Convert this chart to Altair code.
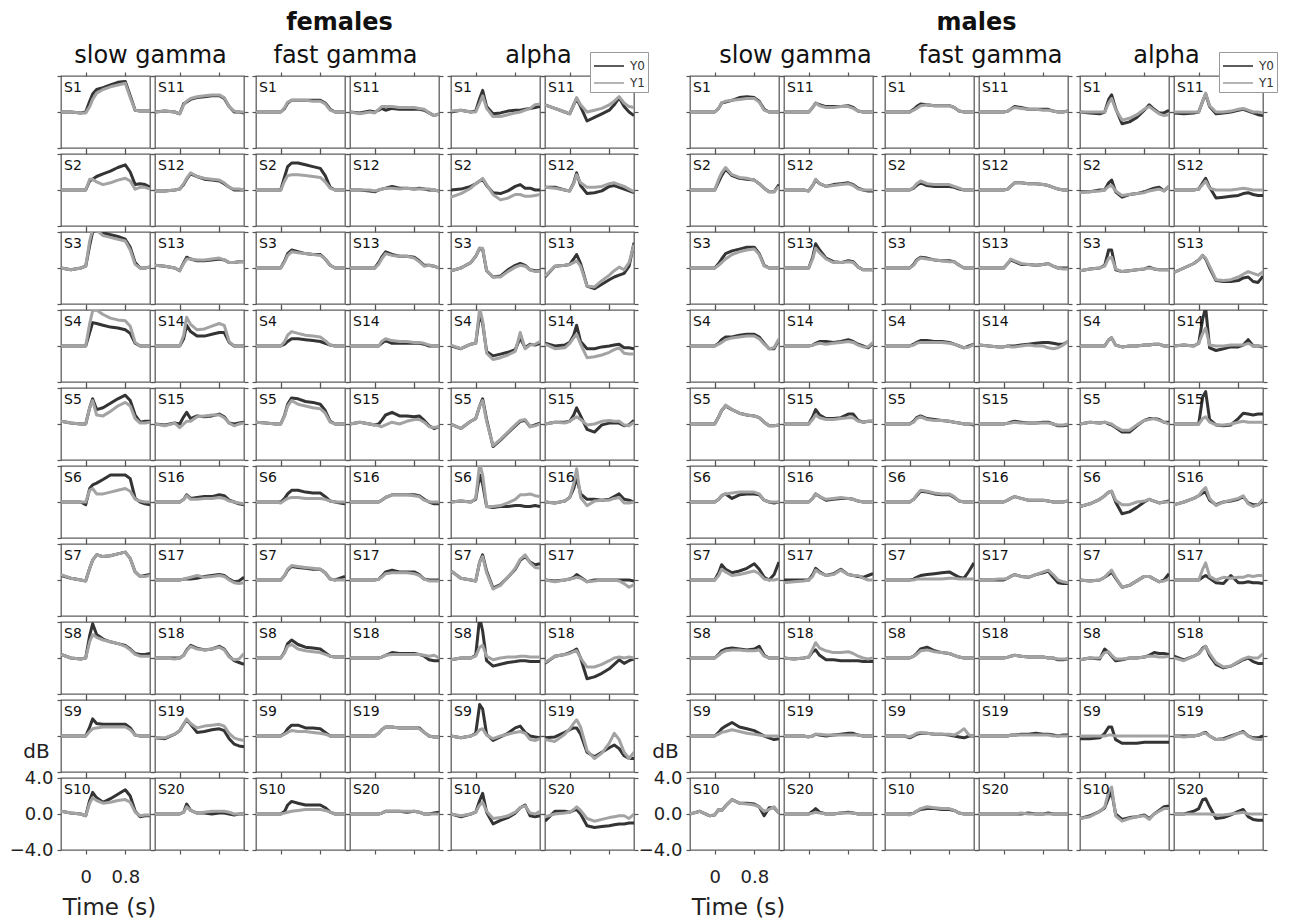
import altair as alt
import pandas as pd

# ---------------- data ----------------
T = [-0.5, -0.3, -0.1, 0.0, 0.08, 0.14, 0.22, 0.35, 0.5, 0.65, 0.8, 0.9, 1.0, 1.1, 1.2, 1.3]
SUBJECTS = ["S%d" % i for i in range(1, 21)]
GROUPS = ["females", "males"]
BANDS = ["slow gamma", "fast gamma", "alpha"]
SERIES = ["Y0", "Y1"]
X_TICKS = [0, 0.8]
Y_TICKS = [-4, 0, 4]

F_SG0 = [
 [0,0,-0.1,0,1.2,2.0,2.5,2.7,3.0,3.3,3.4,1.8,0.2,0.1,0.1,0.1],
 [0,0,0,0,1.0,1.2,1.5,1.8,2.1,2.5,2.8,2.0,0.6,0.7,0.6,0.3],
 [0,-0.2,0,0.2,2.5,4.0,4.3,3.9,3.7,3.5,3.2,2.3,0.6,0,0,0.1],
 [0,0,0,0,1.5,2.6,2.5,2.3,2.1,2.0,1.8,1.4,0.3,0,0,0],
 [0.3,0.1,0,0,1.8,2.8,1.6,1.8,2.3,2.8,3.2,2.6,1.0,0.2,0.3,0.3],
 [0,0,0,-0.3,1.5,1.9,2.1,2.5,3.0,3.0,3.0,2.6,0.4,0,-0.2,-0.3],
 [0.5,0.2,0,-0.1,1.3,2.2,2.8,2.6,2.7,2.9,3.1,2.4,0.9,0.4,0.5,0.6],
 [0.4,0,-0.1,0,2.5,3.8,2.6,2.1,1.8,1.6,1.4,1.0,0.5,0.4,0.4,0.5],
 [0,0,0,0,1.0,1.9,1.4,1.3,1.3,1.3,1.3,0.9,0.1,0,0,0],
 [0.3,0.1,0,-0.2,1.5,2.4,1.8,1.3,1.7,2.2,2.7,2.0,0.3,-0.3,-0.2,-0.2],
 [0,0.1,0,-0.2,0.9,1.1,1.4,1.6,1.7,1.8,1.8,1.5,0.6,0,0,-0.1],
 [-0.1,-0.1,0,0.1,0.6,1.2,1.8,1.5,1.2,1.1,1.0,0.7,0.3,0,0,0],
 [0.3,0.2,0,-0.3,0.6,1.2,1.0,0.8,0.8,0.9,1.0,0.9,0.6,0.6,0.7,0.7],
 [0,0,0,0,0.8,2.3,1.6,1.1,1.1,1.3,1.5,1.5,0.4,0,0,0],
 [0,-0.1,0.1,0,0.8,1.3,0.6,0.9,0.8,0.9,1.1,0.8,0.1,0,0.1,0.2],
 [0,0,0,0,0.3,0.8,0.4,0.5,0.6,0.6,0.8,0.7,0.2,0,-0.2,-0.3],
 [0,0,0,0,0.1,0.1,0.1,0.2,0.4,0.5,0.6,0.5,0.1,-0.2,-0.1,0.3],
 [0,0,0,0,0.3,0.9,1.4,1.1,0.9,1.0,1.3,1.0,0.2,-0.3,-0.5,-0.7],
 [-0.2,-0.3,0.2,0.6,1.3,1.8,1.3,0.4,0.5,0.7,0.8,0.6,-0.3,-0.9,-1.1,-1.2],
 [0,0,0,0,0.2,1.1,0.4,0.1,0.1,0,0.1,0.1,0,-0.1,0,0],
]
F_SG1 = [
 [0,0,-0.1,-0.1,0.6,1.4,2.1,2.5,2.8,3.0,3.2,1.6,0.2,0.1,0.1,0.1],
 [0,0,0,0,1.2,1.2,0.9,0.6,0.8,1.1,1.3,1.0,0.1,0.3,0.3,0.1],
 [0,-0.2,0,0.2,3.0,4.3,4.2,3.6,3.4,3.2,3.0,2.0,0.4,0,0,0.1],
 [0,0,0,0,2.5,3.9,4.0,3.5,3.1,2.9,2.8,2.2,0.4,0,0,0],
 [0.3,0.1,0,0,1.8,2.6,1.0,0.9,1.4,2.0,2.4,2.0,0.6,0.1,0.1,0.2],
 [0,0,0,0,1.3,1.5,0.9,0.9,1.1,1.3,1.5,1.2,0.3,0.1,0,0],
 [0.6,0.2,0,-0.1,1.3,2.2,2.8,2.6,2.7,2.9,3.1,2.4,0.9,0.4,0.4,0.5],
 [0.4,0,-0.1,0,1.8,2.6,2.3,2.0,1.8,1.6,1.3,0.9,0.4,0.2,0.2,0.2],
 [0,0,0,0,0.5,0.8,0.9,1.0,1.0,1.0,1.0,0.7,0.1,0,0,0],
 [0.3,0.1,0,-0.2,1.2,1.8,1.5,1.2,1.3,1.5,1.6,1.3,0.2,-0.2,-0.1,-0.1],
 [0,0.1,0,-0.2,0.8,1.2,1.5,1.7,1.8,1.9,1.9,1.6,0.6,0.1,0,0],
 [-0.1,-0.1,0,0.1,0.7,1.3,1.9,1.5,1.3,1.2,1.1,0.8,0.3,0.1,0.1,0],
 [0.3,0.2,0,-0.3,0.5,1.0,1.0,0.9,0.9,1.0,1.1,0.9,0.6,0.6,0.7,0.7],
 [0,0,0,0,1.2,3.2,2.4,1.8,1.9,2.2,2.5,2.3,0.5,0,0,0],
 [0,-0.2,0.1,-0.4,0,0.3,0.3,0.8,0.9,1.0,1.0,0.7,0.1,-0.2,0,0.1],
 [0,0,0,0,0.3,0.7,0.3,0.3,0.4,0.4,0.5,0.4,0.1,0,-0.1,-0.2],
 [0,0,0,0,0.1,0.2,0.3,0.5,0.3,0.4,0.5,0.4,0,-0.3,-0.4,-0.3],
 [0,0,-0.1,0,0.3,0.8,1.3,1.0,0.9,1.0,1.2,0.9,0.1,-0.2,-0.1,0.5],
 [-0.2,-0.2,0.2,0.6,1.3,1.9,1.4,0.9,1.1,1.2,1.3,1.1,0.3,-0.2,-0.4,-0.5],
 [0,0,0,0,0.2,0.8,0.4,0.1,0.2,0.3,0.3,0.3,0.2,0,0,0],
]
F_FG0 = [
 [0,0,0,0,0.4,1.0,1.3,1.3,1.3,1.3,1.3,1.0,0.3,0,0,0],
 [0,0,0,0,1.5,2.6,3.0,3.0,2.8,2.6,2.4,1.6,0.3,0,0,0],
 [0,0,0,0,0.8,1.6,2.0,1.8,1.6,1.5,1.5,1.0,0.3,0,0,0],
 [0,0,0,0,0.2,0.5,0.8,0.8,0.7,0.6,0.5,0.3,0.1,0,0,0],
 [0.2,0.1,0,0,1.0,2.2,2.9,2.8,2.5,2.4,2.2,1.5,0.3,0,0,0],
 [0,0,0,0,0.4,0.9,1.3,1.3,1.1,1.0,1.0,0.6,0.1,0,-0.1,-0.2],
 [0,0,0,0,0.5,1.1,1.5,1.4,1.3,1.2,1.2,0.8,0.1,0,0.2,0.4],
 [0,0,0,0,0.7,1.6,2.0,1.5,1.2,1.1,1.0,0.6,0.2,0.1,0.1,0.1],
 [0,0,0,0,0.3,0.8,1.2,1.2,0.9,0.9,0.8,0.4,0,0,0,0],
 [0,0,0,0,0.3,1.0,1.4,1.2,1.0,1.0,1.0,0.7,0.2,0,0,0],
 [0,-0.1,0.1,0,0.2,0.4,0.2,0.4,0.3,0.3,0.3,0.3,0.2,-0.1,-0.4,-0.2],
 [0,0,-0.1,-0.2,0,0.1,0.2,0.4,0.2,0.2,0.1,0.2,0.1,0,0,-0.1],
 [0,0,0,0,0.6,1.2,1.8,1.5,1.3,1.3,1.2,0.8,0.3,0.3,0.2,0],
 [0,0,0,0,0,0.3,0.6,0.3,0.3,0.3,0.3,0.3,0.2,0,0,0],
 [0,0.2,0,-0.1,0,0.4,1.0,1.3,0.9,0.9,0.8,0.9,0.4,-0.2,-0.5,-0.3],
 [0,0,0,0,0,0.2,0.5,0.8,0.8,0.8,0.8,0.7,0.3,0,-0.2,-0.2],
 [0,0,0,0,0.1,0.4,0.9,1.1,0.9,0.9,0.9,0.6,0.1,0,0,0],
 [0,0,0,0,0,0.1,0.3,0.6,0.5,0.5,0.5,0.4,0.2,-0.2,-0.3,-0.3],
 [0,0,0,0,0.3,0.7,1.0,1.0,0.9,0.9,0.9,0.9,0.4,0,-0.1,-0.1],
 [0,0,0,0,0,0.1,0.3,0.3,0.3,0.2,0.3,0.2,0,0,0.1,0.2],
]
F_FG1 = [
 [0,0,0,0,0.5,1.1,1.3,1.3,1.3,1.2,1.2,0.9,0.2,0,0,0],
 [0,0,0,0,1.0,1.6,1.7,1.7,1.6,1.5,1.4,0.9,0.2,0,0,0],
 [0,0,0,0,0.7,1.4,1.8,1.7,1.6,1.5,1.4,1.0,0.3,0,0,0],
 [0,0,0,0,0.5,1.2,1.6,1.4,1.2,1.1,1.0,0.6,0.1,0,0,0],
 [0.2,0.1,0,0,0.9,2.0,2.6,2.2,2.0,1.8,1.7,1.2,0.2,0,0,0],
 [0,0,0,-0.1,0.2,0.4,0.5,0.5,0.4,0.4,0.4,0.3,0.1,0,0,0],
 [0,0,0,0,0.5,1.2,1.6,1.5,1.4,1.3,1.2,0.8,0.1,0,0,0],
 [0,0,0,0,0.6,1.3,1.5,1.0,0.8,0.7,0.6,0.4,0.2,0.1,0.1,0.1],
 [0,0,0,0,0.2,0.4,0.6,0.5,0.5,0.4,0.3,0.2,0,0,0,0],
 [0,0,0,0,0.1,0.2,0.3,0.4,0.5,0.5,0.5,0.4,0.2,0,0,0],
 [0,-0.2,0,-0.1,0.3,0.6,0.6,0.6,0.5,0.5,0.5,0.4,0.3,-0.1,-0.4,-0.2],
 [0,0,0,-0.1,0,0.1,0.2,0.2,0.1,0.2,0.1,0.1,0.1,0.1,0,-0.1],
 [0,0,0,0,0.4,1.0,1.6,1.4,1.3,1.3,1.1,0.7,0.2,0.3,0.2,0],
 [0,0,0,0,0,0.5,0.8,0.6,0.5,0.5,0.4,0.4,0.3,0.1,0,0],
 [0,0.2,0,-0.1,-0.2,-0.3,-0.1,0.2,0,0.3,0.5,0.5,0.2,-0.3,-0.4,-0.3],
 [0,0,0,0,0,0.2,0.5,0.8,0.8,0.8,0.7,0.6,0.2,0,0,0],
 [0,0,0,0,0.1,0.3,0.7,0.8,0.8,0.8,0.7,0.5,0.1,-0.1,-0.1,-0.1],
 [0,0,0,0,0,0.1,0.3,0.4,0.4,0.4,0.4,0.4,0.3,0.2,0.3,0],
 [0,0,0,0,0.3,0.7,1.0,1.0,0.9,0.9,0.9,0.8,0.4,0,-0.1,-0.1],
 [0,0,0,0,0,0.1,0.3,0.3,0.3,0.3,0.3,0.2,0,0,0,0],
]
F_AL0 = [
 [0,0.2,0,0.1,1.5,2.4,0.6,-0.2,-0.1,0.1,0.2,0.2,0.3,0.4,0.5,0.6],
 [0,0.1,0.4,0.7,1.0,1.2,0.5,-0.3,-0.4,-0.1,0.4,0.6,0.2,0.2,0,0],
 [-0.3,0,0.6,1.3,2.2,2.1,-0.3,-1.0,-0.9,-0.2,0.3,0.5,0.3,-0.2,-0.3,-0.3],
 [0,-0.3,0.2,0.3,3.5,2.5,-0.6,-1.1,-0.9,-0.7,-0.4,0.9,-0.2,0.2,0.1,0.3],
 [0,-0.5,0.3,0.6,2.0,2.8,0.5,-2.5,-1.8,-1.0,-0.2,0.3,0.4,-0.3,-0.1,0.1],
 [0,0.1,0,0.3,3.0,2.0,-0.5,-0.6,-0.5,-0.5,-0.4,-0.4,-0.5,-0.5,-0.4,-0.5],
 [1.0,0.2,0,-0.1,2.0,2.8,1.0,-0.9,-0.5,0.3,1.2,2.2,2.6,2.0,1.7,1.8],
 [-0.2,0,0,0.3,4.5,3.0,-0.3,-0.9,-0.7,-0.5,-0.4,-0.3,-0.3,-0.4,-0.4,-0.4],
 [0,-0.2,0,0.3,3.5,3.0,0.2,-0.5,-0.1,0.3,0.9,1.1,0.4,0,-0.1,-0.2],
 [0,-0.3,0,0.2,1.5,2.3,0.2,-1.1,-0.7,-0.4,0.1,0.7,1.0,-0.2,-0.3,-0.2],
 [0.8,0.4,0,-0.2,0.8,1.5,0.6,-1.0,-0.6,-0.2,0.2,0.8,1.6,0.6,0,-0.4],
 [0.3,0.3,0,-0.1,0.8,1.9,0.5,-0.4,-0.3,-0.1,0.4,0.5,0.3,0.1,-0.1,-0.3],
 [-1.0,0.2,0.3,0.4,1.0,1.5,0.5,-2.0,-2.3,-1.8,-1.3,-1.0,-0.8,-0.6,0.2,2.8],
 [0.3,0,0.1,0.4,1.2,2.3,0.5,-0.3,-0.3,-0.1,0,0.1,0.2,-0.2,-0.2,-0.3],
 [0,0.2,0.2,0.3,1.0,1.8,0.9,-0.6,-0.9,-0.1,0.1,0.1,0.1,-0.2,-0.1,0.4],
 [0,-0.1,0.1,0.5,1.5,2.7,0.9,0.3,0.3,0.2,0.3,0.6,0.9,0.3,0.2,0],
 [0,-0.1,0,0.1,0.3,0.6,0.3,-0.2,0,0,0,0,0,0,0,-0.1],
 [-0.6,0.2,0.4,0.6,0.8,1.0,0,-2.3,-2.1,-1.7,-1.2,-0.7,-0.2,-0.6,-0.3,-0.1],
 [-0.2,-0.1,0.4,0.7,0.9,0.9,0.2,-1.8,-2.3,-1.8,-1.3,-1.0,-1.4,-2.2,-2.5,-2.5],
 [-0.8,0.3,0.3,0.2,0.4,0.5,0,-1.3,-1.5,-1.4,-1.3,-1.2,-1.1,-1.1,-1.0,-1.0],
]
F_AL1 = [
 [0.1,0.2,0,0,1.0,1.8,0.4,-0.5,-0.5,-0.3,-0.1,0,0.2,0.4,0.8,0.9],
 [-0.8,-0.4,0.2,0.7,1.0,1.3,0.6,-0.5,-1.1,-0.9,-0.5,-0.5,-0.7,-0.7,-0.6,-0.5],
 [-0.3,0,0.6,1.3,2.2,2.2,-0.3,-1.0,-1.0,-0.4,0.1,0.3,0.2,-0.2,-0.4,-0.4],
 [0.1,-0.3,0.2,0.3,4.2,2.8,-0.8,-1.5,-1.3,-1.0,-0.6,1.5,-0.3,0.1,0.2,0.5],
 [0,-0.5,0.3,0.6,2.0,2.6,0.3,-2.4,-1.7,-0.9,-0.1,0.4,0.5,-0.3,-0.2,0],
 [0,0.1,0,0.4,4.3,3.0,-0.5,-0.5,-0.4,-0.1,0.3,0.8,0.8,0.9,0.7,0.6],
 [1.0,0.2,0,-0.1,2.0,2.6,0.8,-1.0,-0.6,0.3,1.3,2.3,2.8,1.9,1.4,1.3],
 [-0.2,0,0,0.2,1.2,1.4,0.2,-0.2,0,0.1,0.1,0.2,0.2,0.1,0.1,0.1],
 [0,-0.2,0,0.2,0.7,0.8,0.1,-0.3,0,0.2,0.4,0.5,0.3,-0.4,-0.5,-0.3],
 [0,-0.2,0,0.2,1.0,1.3,0.3,-0.5,-0.4,-0.2,0.2,0.7,0.9,0.1,0,0.3],
 [0.8,0.4,0,-0.2,0.8,1.6,0.8,0,0.2,0.4,0.8,1.2,1.7,1.0,0.6,0.5],
 [0.3,0.2,0,-0.1,0.7,1.7,0.8,0.3,0.3,0.4,0.7,0.8,0.6,0.4,0.1,-0.2],
 [-0.9,0.2,0.3,0.4,0.6,0.8,0.2,-2.0,-2.1,-1.4,-0.8,-0.3,0.1,-0.2,0.6,2.6],
 [0.2,-0.3,-0.2,0.3,0.9,1.3,0.2,-1.3,-1.2,-1.0,-0.7,-0.4,-0.2,-0.8,-0.9,-0.9],
 [0,0.2,0.1,0.3,0.6,0.8,0.5,-0.1,0,0.3,0.4,0.3,0.3,-0.1,-0.2,0.2],
 [0,-0.1,0.1,0.5,2.0,3.7,0.5,-0.4,0.1,0.2,0.2,0.4,0.5,-0.1,-0.1,0],
 [0,-0.2,0,0.1,0.2,0.3,0.2,-0.2,-0.1,0,0,0,-0.1,-0.4,-0.8,-0.5],
 [-0.5,0.2,0.4,0.5,0.7,0.8,0,-1.0,-1.0,-0.7,-0.3,0,0.1,0,0.1,0],
 [-0.4,-0.6,0.2,0.8,1.4,1.8,1.0,-1.6,-2.5,-1.9,-0.8,0.3,-0.4,-1.8,-2.5,-1.8],
 [-0.3,0,0.1,0.2,0.5,0.8,0.4,-0.5,-0.8,-0.6,-0.4,-0.3,-0.2,-0.2,-0.5,0],
]
M_SG0 = [
 [0,0,0,0,0.4,1.0,1.1,1.3,1.6,1.7,1.6,1.2,0.3,0,0,0],
 [0,0,0,0,0.9,1.6,2.3,1.6,1.3,1.2,1.1,0.7,0.2,-0.2,-0.2,0.6],
 [0,0,0,0,0.5,1.0,1.6,1.9,2.1,2.3,2.3,1.6,0.3,0,0,0],
 [0,0,0,0,0.3,0.7,1.0,1.0,1.2,1.3,1.3,1.0,0.3,-0.3,-0.3,0.7],
 [0,0,0,0,0.8,1.5,2.0,1.6,1.2,1.0,0.9,0.7,0.2,-0.2,-0.2,-0.1],
 [0,0,0,0,0.3,0.7,0.9,0.4,0.8,0.9,0.9,0.8,0.2,0,-0.1,0],
 [0,0,0,0,0.8,1.7,1.2,0.8,1.0,1.3,1.8,1.2,0.3,0,0.6,2.0],
 [0,0,0,0,0.4,0.8,1.0,1.1,1.0,0.9,1.0,1.3,0.3,0,0,0],
 [0,0,0,0,0.4,0.8,1.1,1.5,1.0,0.8,0.6,0.3,0,-0.2,-0.4,-0.3],
 [0,0.3,-0.2,-0.1,0.5,0.4,0.9,1.6,1.2,1.2,1.1,0.8,-0.2,0.7,0.7,0.1],
 [0,0,0,0,0.5,1.0,0.8,0.6,0.6,0.6,0.7,0.5,0.1,0,0,0],
 [0,0,0,-0.1,0.5,1.1,0.7,0.4,0.6,0.7,0.8,0.6,0.2,0,-0.1,-0.1],
 [0,0,0,0,1.2,2.7,2.0,1.1,0.7,0.6,0.8,0.7,0.1,-0.2,-0.2,-0.2],
 [0,0,0,0,0.1,0.3,0.5,0.5,0.4,0.5,0.7,0.5,0.2,0,-0.2,0.3],
 [0,0,0,0,0.8,1.6,1.0,0.6,0.6,0.7,1.1,1.1,0.4,0.2,0.3,0.3],
 [0,0,0,0,0.4,0.9,0.6,0.2,0.3,0.4,0.4,0.3,0.1,0,0,0],
 [0,0,0,0,0.6,1.3,0.9,0.5,0.7,1.2,0.6,0.5,0.4,0.3,0.5,0.7],
 [0,-0.1,0,0.1,0.7,0.9,0.3,-0.2,-0.2,-0.3,-0.3,-0.3,-0.3,-0.4,-0.4,-0.4],
 [0,0,0,-0.1,0,0.2,0.1,0,0.1,0.2,0.3,0.3,0.1,0,0,0],
 [0,0,0,0,0.3,0.6,0.2,0,0,0.1,0.2,0.1,0,0,0,0],
]
M_SG1 = [
 [0,0,0,0,0.4,1.0,1.2,1.3,1.4,1.5,1.5,1.1,0.2,0,0,0],
 [0,0,0,0,1.2,1.9,2.5,1.7,1.4,1.3,1.1,0.7,0.2,-0.2,-0.2,0.4],
 [0,0,0,0,0.3,0.6,1.0,1.5,1.8,2.0,2.1,1.5,0.2,0,0,0],
 [0,0,0,0,0.2,0.4,0.7,0.9,1.0,1.1,1.1,0.8,0.2,-0.3,-0.2,0.8],
 [0,0,0,0,0.8,1.5,2.1,1.6,1.2,1.0,0.9,0.7,0.2,-0.2,-0.2,-0.1],
 [0,0,0,0,0.3,0.7,0.9,1.0,1.1,1.1,1.1,0.9,0.2,0,0,0],
 [0,0,0,0,0.5,1.2,0.9,0.5,0.6,0.8,1.0,0.7,0.1,0,0,0.1],
 [0,0,0,0,0.3,0.6,0.8,0.9,0.9,0.8,0.8,0.9,0.2,0,0,0],
 [0,0,0,0,0.2,0.4,0.5,0.7,0.5,0.3,0.2,0.1,0,0,0,0],
 [0,0.3,-0.2,-0.1,0.5,0.4,0.9,1.6,1.2,1.1,1.0,0.8,0.3,0.5,0.8,0.1],
 [0,0,0,0,0.5,1.0,0.7,0.5,0.5,0.6,0.6,0.4,0.1,0,0,0],
 [0,0,0,-0.1,0.5,1.2,0.7,0.4,0.5,0.6,0.7,0.5,0.1,0,0,0],
 [0,0,0,0,1.0,2.2,1.7,1.0,0.6,0.6,0.7,0.6,0.1,-0.2,-0.2,-0.2],
 [0,0,0,0,0.1,0.2,0.3,0.2,0.3,0.4,0.5,0.4,0.1,-0.1,-0.1,0.4],
 [0,0,0,0,0.5,1.0,0.7,0.5,0.5,0.6,0.7,0.7,0.3,0.2,0.3,0.3],
 [0,0,0,0,0.4,0.9,0.6,0.3,0.4,0.5,0.4,0.3,0.1,0,0,0],
 [-0.3,-0.2,-0.1,0,0.4,1.1,0.8,0.5,0.6,1.1,0.6,0.5,0.5,0.2,0,0],
 [0,-0.1,0,0.1,1.0,1.7,1.1,0.8,0.6,0.6,0.7,0.5,0.2,0,-0.1,0],
 [0,0,0,-0.1,0,0.2,0.2,0.1,0.1,0.1,0.1,0.1,0.1,0,0,0],
 [0,0,0,0,0.1,0.2,0.1,0,0,0.1,0.1,0.1,0,0,0,0],
]
M_FG0 = [
 [0,0,0,0,0.3,0.6,0.9,0.8,0.7,0.7,0.7,0.5,0.1,0,0,0],
 [0,0,0,0,0.2,0.5,0.8,0.5,0.4,0.4,0.4,0.3,0.1,0,0,0],
 [0,0,0,0,0.4,0.9,1.2,1.1,0.9,0.8,0.8,0.7,0.3,0,0,0],
 [0,0,0,0,0.2,0.4,0.6,0.6,0.5,0.5,0.4,0.2,0,-0.2,0,0.2],
 [0,0,0,0,0.3,0.7,0.9,0.6,0.5,0.4,0.3,0.2,0.1,0,0,-0.1],
 [0,0,0,0,0.3,0.7,1.2,1.1,0.9,0.8,0.8,0.5,0.1,0,0,0],
 [0,0,0,0,0.1,0.3,0.5,0.6,0.7,0.8,0.9,0.6,0.3,0.2,1.0,1.9],
 [0,0,0,0,0.2,0.5,1.0,1.2,0.8,0.6,0.5,0.3,0.1,0,0,0],
 [0,0,0,-0.2,0,0.2,0.3,0.3,0.2,0.2,0.1,0,-0.1,-0.2,0,0],
 [0,0,0,0,0.1,0.3,0.5,0.6,0.6,0.5,0.5,0.4,0.1,0,0,0],
 [0,0,0,0,0.1,0.3,0.6,0.5,0.3,0.3,0.3,0.3,0.1,0,0,0.1],
 [0,0,0,0,0.1,0.4,0.8,0.8,0.7,0.7,0.6,0.5,0.3,0.1,0,0],
 [0,0,0,0,0.5,0.9,0.7,0.4,0.4,0.3,0.4,0.5,0.2,0,0,0],
 [0.1,0,-0.1,-0.1,0,0,0,0.1,0.2,0.3,0.4,0.4,0.3,0.2,0.2,0.5],
 [0,0,0,0,0.1,0.2,0.3,0.2,0.1,0.1,0.2,0.2,0,-0.2,-0.2,-0.1],
 [0,0,0,0,0.2,0.4,0.6,0.4,0.2,0.2,0.2,0.1,0,0,0,0.1],
 [0,0,0,0,0.2,0.4,0.6,0.4,0.3,0.6,0.8,1.0,0.3,-0.3,-0.4,-0.4],
 [0,0,0,0,0.1,0.2,0.3,0.2,0.1,0.1,0.1,0,0,-0.2,-0.2,-0.1],
 [0,0,0,0,0,0.1,0.1,0.2,0.2,0.3,0.2,0.2,0.1,0,0.1,0.1],
 [0,0,0,0,0,0,0,0,0.1,0,0,0.1,0,0,0,0],
]
M_FG1 = [
 [0,0,0,0,0.2,0.4,0.7,0.8,0.7,0.7,0.7,0.5,0.1,0,0,0],
 [0,0,0,0,0.3,0.7,1.0,0.7,0.6,0.6,0.6,0.4,0.2,0,0,0],
 [0,0,0,0,0.3,0.8,1.1,1.0,0.9,0.8,0.7,0.7,0.3,0,0,0],
 [0,0,0,0,0.1,0.3,0.4,0.4,0.4,0.4,0.3,0.2,0,-0.2,-0.1,0.2],
 [0,0,0,0,0.2,0.6,0.8,0.5,0.4,0.4,0.3,0.2,0.1,0,0,0],
 [0,0,0,0,0.3,0.8,1.3,1.2,1.0,0.9,0.9,0.6,0.1,0,0,0],
 [0,0,0,0,0,0.1,0.1,0.1,0.1,0.1,0.2,0.2,0.1,0.1,0.1,0.1],
 [0,0,0,0,0.2,0.4,0.8,0.9,0.7,0.6,0.5,0.3,0.1,0,0,0],
 [0,0,0,-0.1,0.1,0.3,0.4,0.3,0.2,0.2,0.2,0.1,0.4,0.8,0.1,0],
 [0,0,0,-0.1,0.1,0.3,0.6,0.8,0.7,0.6,0.6,0.4,0.1,0,0,0],
 [0,0,0,0,0.1,0.3,0.5,0.4,0.3,0.3,0.2,0.2,0.1,0,0,0.1],
 [0,0,0,0,0.1,0.4,0.8,0.8,0.7,0.7,0.6,0.5,0.3,0.1,0,0],
 [0,0,0,0,0.5,1.0,0.8,0.5,0.4,0.3,0.4,0.5,0.2,0,-0.1,-0.1],
 [0.1,0,-0.1,-0.1,0,-0.1,-0.1,0,0.1,0,0,-0.2,-0.3,-0.2,0.1,0.5],
 [0,0,0,0,0.1,0.1,0.2,0.1,0.1,0.1,0.1,0.1,0,-0.1,-0.1,0],
 [0,0,0,0,0.2,0.4,0.6,0.4,0.2,0.2,0.2,0.1,0,0,0,0.1],
 [0,0,0.1,0.1,0.2,0.4,0.6,0.4,0.3,0.6,0.9,1.1,0.6,0,-0.2,-0.3],
 [0,0,0,0,0.1,0.2,0.3,0.2,0.1,0.1,0.1,0,0,-0.1,-0.1,-0.1],
 [0,0,0,0,0,0.1,0.1,0.1,0.1,0.1,0.1,0.1,0,0,0,0],
 [0,0,0,0,0,0,0,0.1,0,0,0,0,0,0,0,0],
]
M_AL0 = [
 [0,-0.1,-0.2,0,1.4,1.9,0.4,-1.3,-1.1,-0.6,0.2,0.8,0.3,-0.1,-0.1,0.2],
 [-0.2,-0.2,0,0,0.8,1.1,-0.2,-0.8,-0.5,-0.4,-0.2,0,0.2,0.3,-0.1,0.4],
 [-0.3,-0.1,0,0.3,2.0,2.0,-0.2,-0.4,-0.3,-0.2,-0.1,0.1,-0.1,-0.2,-0.2,-0.2],
 [0,0,0,0,0.7,0.9,0.1,-0.1,0,0,0.1,0.1,0.2,0.2,0,0],
 [0,0.2,0.1,0.2,0,-0.1,-0.4,-0.9,-0.9,-0.2,0.4,0.6,0.6,0.5,0.2,0.2],
 [-0.5,-0.2,0.3,0.7,1.1,1.2,0,-1.3,-1.1,-0.6,0,0.3,0.1,-0.1,0,0.1],
 [0,-0.1,0,0.3,0.6,0.9,0.2,-0.8,-0.6,-0.1,0.4,0.4,0.1,-0.2,0,0.7],
 [-0.2,0,-0.1,1.0,0.6,0.2,-0.3,-0.2,0,0,0.1,0.3,0.6,0.5,0.5,0.4],
 [-0.3,-0.3,-0.2,0.3,1.0,1.0,-0.4,-0.8,-0.8,-0.8,-0.7,-0.7,-0.7,-0.7,-0.7,-0.7],
 [-0.5,-0.2,0.3,0.7,1.8,2.5,0,-0.6,-0.4,-0.3,-0.1,-0.5,0,0.4,0.8,0.9],
 [-0.1,-0.2,-0.1,0,1.2,2.0,0.6,-0.2,-0.1,0,0.2,0.3,0.1,-0.1,-0.3,-0.4],
 [0,0,0,0.1,0.8,1.3,0.3,-0.9,-0.8,-0.7,-0.6,-0.4,-0.3,-0.5,-0.6,-0.6],
 [-0.5,0,0.5,0.9,1.4,1.0,0,-1.4,-1.5,-1.5,-1.4,-1.1,-1.0,-1.5,-1.6,-0.9],
 [0,0.1,0,0.3,3.0,4.3,-0.2,-0.5,-0.3,-0.1,-0.1,0.1,0.7,0,0,-0.1],
 [0,0,0,0,3.0,3.6,0.5,-0.1,-0.2,-0.1,0.6,1.2,1.1,1.0,1.1,1.1],
 [-0.3,0,0.4,0.7,1.0,1.1,0.2,-0.3,0,0.1,0.3,0.6,-0.1,-0.3,-0.3,0.1],
 [0,0,0,0,0.3,0.5,0.2,-0.3,-0.4,0.5,-0.3,-0.3,-0.2,-0.3,-0.3,-0.4],
 [0.2,-0.2,0.2,0.5,1.1,1.3,0.3,-0.7,-1.1,-0.9,-0.5,-0.2,0,-0.4,-0.6,-0.6],
 [0,0,0,0.1,0.3,0.4,0,-0.4,-0.3,0,0.3,0.5,0,-0.2,-0.2,0],
 [0,0,0.3,0.6,1.6,1.7,0.8,-0.5,-0.4,-0.1,0.3,0.5,-0.3,-0.6,-0.7,-0.7],
]
M_AL1 = [
 [0,0,0,0,1.0,1.5,0.3,-0.9,-0.7,-0.3,0.3,0.6,0.2,-0.2,-0.4,-0.3],
 [-0.3,-0.2,-0.1,0,0.4,0.5,-0.1,-0.6,-0.5,-0.4,-0.3,-0.1,0,0.1,-0.1,0.4],
 [-0.3,-0.1,0,0.2,1.1,1.2,-0.1,-0.4,-0.3,-0.2,-0.1,0,-0.1,-0.2,-0.2,-0.2],
 [0,0,0,0,0.7,0.9,0.1,-0.1,0,0,0.1,0.1,0.2,0.2,0,0],
 [0,0.2,0.1,0.2,0.1,0,-0.3,-0.7,-0.7,-0.1,0.4,0.5,0.6,0.4,0.2,0],
 [-0.5,-0.2,0.3,0.7,1.1,1.2,0.2,-0.3,-0.3,0,0.1,0.3,0.1,-0.1,0,0],
 [0,-0.1,0,0.3,0.8,1.1,0.3,-0.8,-0.6,-0.1,0.4,0.4,0.1,-0.2,-0.1,0.1],
 [-0.2,0,0,0.6,0.7,0.3,-0.1,-0.1,0,0,0.1,0.2,0.2,0.1,0.1,0.2],
 [0,0,0,0,0.1,0.1,0,0,0,0,0,0,0,0,0,0],
 [-0.5,-0.3,0.3,0.8,2.5,3.0,-0.2,-0.8,-0.5,-0.3,-0.2,-0.6,0,0.3,0.6,0.6],
 [0,0,0,0,1.2,2.1,0.7,0,0,0.1,0.3,0.4,0.2,0,0,-0.1],
 [0,0,0,0.1,0.6,1.0,0.2,0,0,0,0.1,0.2,0.1,0,0,0],
 [-0.5,0,0.5,0.9,1.4,1.1,0.2,-1.3,-1.4,-1.3,-1.0,-0.7,-0.4,-0.6,-0.8,-0.4],
 [0,0.1,0,0.3,1.4,2.0,0.1,0,0,0.1,0.1,0.1,0.3,0,0,0],
 [0,0,0,0,0.6,0.8,0.2,-0.1,-0.1,0,0.2,0.3,0.2,0.2,0.2,0.2],
 [-0.3,0,0.4,0.7,1.3,1.6,0.4,-0.4,0,0.2,0.4,0.7,-0.2,-0.5,-0.3,0.3],
 [0,0,0,0,1.2,1.9,0.4,0,0.3,0.2,0.3,0.3,0.5,0.4,0.5,0.5],
 [0,-0.3,0.2,0.5,1.0,1.3,0.5,-0.5,-1.0,-0.9,-0.4,-0.1,0.1,0,0,0.5],
 [0,-0.1,0,0.1,0.3,0.3,0,-0.4,-0.4,-0.1,0.3,0.4,0,-0.3,-0.4,-0.4],
 [0,0,0,0,0,0,0,-0.1,-0.1,0,0.1,0.2,0,0,0,0],
]

DATA = {
    ("females", "slow gamma"): (F_SG0, F_SG1),
    ("females", "fast gamma"): (F_FG0, F_FG1),
    ("females", "alpha"): (F_AL0, F_AL1),
    ("males", "slow gamma"): (M_SG0, M_SG1),
    ("males", "fast gamma"): (M_FG0, M_FG1),
    ("males", "alpha"): (M_AL0, M_AL1),
}

rows = []
for (g, b), (y0, y1) in DATA.items():
    for si, s in enumerate(SUBJECTS):
        for ser, arr in zip(SERIES, (y0, y1)):
            for t, v in zip(T, arr[si]):
                rows.append({"key": g + "|" + b + "|" + s, "series": ser, "t": t, "dB": v})
DF = pd.DataFrame(rows)
ONE = pd.DataFrame({"k": [0]})

# ---------------- styling ----------------
FONT = "DejaVu Sans"
PW, PH = 89, 72
XS = alt.Scale(domain=[-0.5, 1.3], nice=False, zero=False)
YS = alt.Scale(domain=[-4, 4], nice=False, zero=False)
CS = alt.Scale(domain=SERIES, range=["#343434", "#a3a3a3"])
TICK = dict(ticks=True, tickSize=4, tickColor="#555555", tickWidth=1.2, domain=False, grid=False)
# band title shift (px) relative to the centre of the band's two panels
BAND_DX = {("females", "slow gamma"): -2, ("females", "fast gamma"): -2, ("females", "alpha"): -4,
           ("males", "slow gamma"): 14, ("males", "fast gamma"): 14, ("males", "alpha"): -5}
GROUP_DX = {"females": -8, "males": 0}


def x_axis(orient, show):
    if show:
        return alt.Axis(orient=orient, values=X_TICKS, labels=True, format="~g",
                        labelFontSize=18, labelPadding=14, labelColor="#222222", labelFont=FONT,
                        title="Time (s)", titleFontSize=23, titleFontWeight="normal",
                        titleColor="#222222", titleFont=FONT, titleX=48, titleY=57,
                        titleAlign="center", titleBaseline="middle", **TICK)
    return alt.Axis(orient=orient, values=X_TICKS, labels=False, title=None, **TICK)


def y_axis(orient, show):
    if show:
        return alt.Axis(orient=orient, values=Y_TICKS, labels=True, format=".1f",
                        labelFontSize=18, labelPadding=4, labelColor="#222222", labelFont=FONT,
                        labelBaseline="middle",
                        title="dB", titleFontSize=20, titleFontWeight="normal", titleAngle=0,
                        titleColor="#222222", titleFont=FONT, titleX=-25, titleY=-27,
                        titleAlign="center", titleBaseline="middle", **TICK)
    return alt.Axis(orient=orient, values=Y_TICKS, labels=False, title=None, **TICK)


def panel(g, b, col, row):
    s = SUBJECTS[col * 10 + row]
    show = (b == BANDS[0] and col == 0 and row == 9)
    if b == "alpha" and col == 1 and row == 0:
        leg = alt.Legend(title=None, orient="none", legendX=45, legendY=-24,
                         symbolType="M-1,0L2,0", symbolSize=400, symbolStrokeWidth=1.6,
                         labelFontSize=12, labelColor="#333333", labelFont=FONT, labelOffset=15,
                         strokeColor="#999999", fillColor="#ffffff", padding=3, rowPadding=0)
    else:
        leg = None
    line = alt.Chart(DF).transform_filter(
        alt.FieldEqualPredicate(field="key", equal=g + "|" + b + "|" + s)
    ).mark_line(clip=True, strokeWidth=3, strokeJoin="round").encode(
        x=alt.X("t:Q", scale=XS, axis=x_axis("bottom", show)),
        y=alt.Y("dB:Q", scale=YS, axis=y_axis("left", show)),
        color=alt.Color("series:N", scale=CS, legend=leg),
    )
    label = alt.Chart(ONE).mark_text(
        text=s, align="left", baseline="alphabetic", fontSize=14, font=FONT,
        color="#111111", dx=3, dy=16
    ).encode(
        x=alt.XDatum(-0.5, type="quantitative", scale=XS, axis=x_axis("top", False)),
        y=alt.YDatum(4, type="quantitative", scale=YS, axis=y_axis("right", False)),
    )
    props = dict(width=PW, height=PH)
    if row == 0 and col == 0:
        props["title"] = alt.TitleParams(b, fontSize=24, fontWeight="normal", font=FONT,
                                         color="#111111", anchor="middle", frame="group",
                                         offset=3, dx=(PW + 5) / 2 + BAND_DX[(g, b)])
    if row == 0 and col == 1 and b == "fast gamma":
        props["title"] = alt.TitleParams(g, fontSize=24, fontWeight="bold", font=FONT,
                                         color="#111111", anchor="middle", frame="group",
                                         offset=36, dx=-(PW + 5) / 2 + GROUP_DX[g])
    return alt.layer(line, label).resolve_axis(x="independent", y="independent").properties(**props)


def spacer(w):
    return alt.Chart(ONE).mark_point(opacity=0).properties(
        width=w, height=PH, view=alt.ViewBackground(stroke="transparent"))


cells = []
for r in range(10):
    for gi, g in enumerate(GROUPS):
        if gi == 1:
            cells.append(spacer(46))
        for bi, b in enumerate(BANDS):
            if bi > 0:
                cells.append(spacer(2))
            for c in range(2):
                cells.append(panel(g, b, c, r))

chart = alt.concat(*cells, columns=17, spacing={"row": 6, "column": 5}, bounds="flush",
                   align="each").resolve_scale(color="independent").properties(
    padding={"left": 0, "top": 2, "right": 0, "bottom": 0}
).configure(font=FONT).configure_view(stroke="#5f5f5f", strokeWidth=1.3)

chart.save("out.html", embed_options={"renderer": "svg", "actions": False})
